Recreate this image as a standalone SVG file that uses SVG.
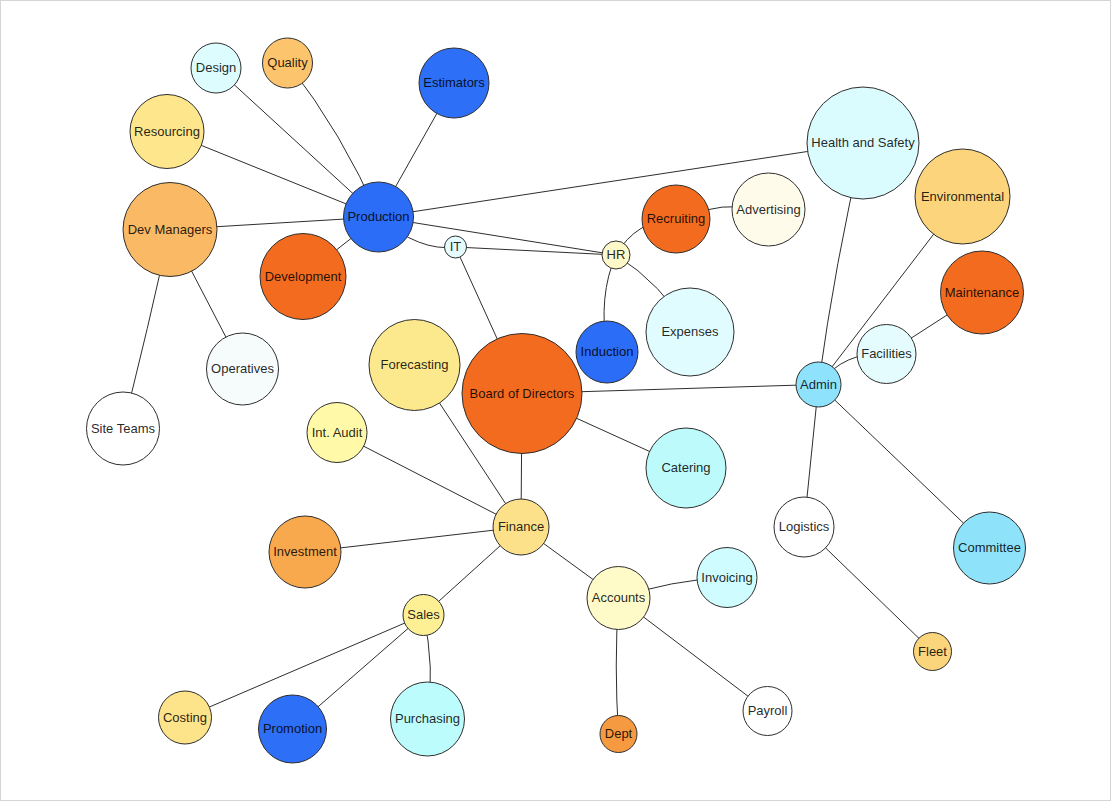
<svg xmlns="http://www.w3.org/2000/svg" width="1111" height="801" viewBox="0 0 1111 801">
<style>
.e{fill:none;stroke:#2e2e2e;stroke-width:1}
.n circle{stroke:#2e2e2e;stroke-width:1}
.n text{font-family:"Liberation Sans",Arial,sans-serif;font-size:13px;fill:#000;fill-opacity:0.86;text-anchor:middle}
</style>
<rect x="0.5" y="0.5" width="1110" height="800" fill="#fff" stroke="#d4d4d4"/>
<g id="connectors">
<path class="e" d="M216,68 L378.5,217"/>
<path class="e" d="M287.5,63 Q343,134 378.5,217"/>
<path class="e" d="M454,83 L378.5,217"/>
<path class="e" d="M167,131.5 L378.5,217"/>
<path class="e" d="M170,229.5 L378.5,217"/>
<path class="e" d="M303,276 L378.5,217"/>
<path class="e" d="M378.5,217 L863,143"/>
<path class="e" d="M378.5,217 L616,255"/>
<path class="e" d="M378.5,217 Q420,252 455.5,247"/>
<path class="e" d="M455.5,247 L616,255"/>
<path class="e" d="M455.5,247 L522,393.5"/>
<path class="e" d="M616,255 Q636,220 676,219"/>
<path class="e" d="M616,255 Q598,295 607,352"/>
<path class="e" d="M616,255 Q662,284 690,332"/>
<path class="e" d="M676,219 Q722,200 768.5,209.5"/>
<path class="e" d="M170,229.5 L242.5,369"/>
<path class="e" d="M170,229.5 Q148,328 123,428.5"/>
<path class="e" d="M522,393.5 L818.5,384.5"/>
<path class="e" d="M522,393.5 L686,468"/>
<path class="e" d="M522,393.5 L521,527"/>
<path class="e" d="M414.5,365 L521,527"/>
<path class="e" d="M337,432.5 L521,527"/>
<path class="e" d="M305,552 L521,527"/>
<path class="e" d="M521,527 L423.5,615"/>
<path class="e" d="M521,527 L618.5,598"/>
<path class="e" d="M423.5,615 L185,717.5"/>
<path class="e" d="M423.5,615 L292.5,729"/>
<path class="e" d="M423.5,615 Q435,667 427.5,719"/>
<path class="e" d="M618.5,598 Q671,580 727,577.5"/>
<path class="e" d="M618.5,598 Q614,666 618.5,734"/>
<path class="e" d="M618.5,598 L767.5,711"/>
<path class="e" d="M818.5,384.5 Q835,263 863,143"/>
<path class="e" d="M818.5,384.5 L962.5,196.5"/>
<path class="e" d="M818.5,384.5 Q844.3,350.8 886.5,354"/>
<path class="e" d="M886.5,354 L982,292.5"/>
<path class="e" d="M818.5,384.5 L804,527"/>
<path class="e" d="M818.5,384.5 L989.5,548"/>
<path class="e" d="M804,527 L932.5,651.5"/>
</g>
<g id="n-design" class="n"><circle cx="216" cy="68" r="25" fill="#dcfcfe"/><text x="216" y="72">Design</text></g>
<g id="n-quality" class="n"><circle cx="287.5" cy="63" r="25" fill="#fcc46c"/><text x="287.5" y="67">Quality</text></g>
<g id="n-estimators" class="n"><circle cx="454" cy="83" r="35" fill="#2d6ff7"/><text x="454" y="87">Estimators</text></g>
<g id="n-resourcing" class="n"><circle cx="167" cy="131.5" r="37" fill="#fde68c"/><text x="167" y="135.5">Resourcing</text></g>
<g id="n-devmanagers" class="n"><circle cx="170" cy="229.5" r="47" fill="#fab965"/><text x="170" y="233.5">Dev Managers</text></g>
<g id="n-production" class="n"><circle cx="378.5" cy="217" r="35" fill="#2b6df6"/><text x="378.5" y="221">Production</text></g>
<g id="n-development" class="n"><circle cx="303" cy="276.5" r="43" fill="#f36b1f"/><text x="303" y="280.5">Development</text></g>
<g id="n-it" class="n"><circle cx="455.5" cy="247" r="11" fill="#e6fbfd"/><text x="455.5" y="251">IT</text></g>
<g id="n-hr" class="n"><circle cx="616" cy="255" r="14" fill="#fff8c8"/><text x="616" y="259">HR</text></g>
<g id="n-recruiting" class="n"><circle cx="676" cy="219" r="34" fill="#f36b1f"/><text x="676" y="223">Recruiting</text></g>
<g id="n-advertising" class="n"><circle cx="768.5" cy="209.5" r="36.5" fill="#fffbeb"/><text x="768.5" y="213.5">Advertising</text></g>
<g id="n-healthsafety" class="n"><circle cx="863" cy="143" r="56" fill="#dafcfe"/><text x="863" y="147">Health and Safety</text></g>
<g id="n-environmental" class="n"><circle cx="962.5" cy="196.5" r="47.5" fill="#fcd47c"/><text x="962.5" y="200.5">Environmental</text></g>
<g id="n-maintenance" class="n"><circle cx="982" cy="292.5" r="41.5" fill="#f36b1f"/><text x="982" y="296.5">Maintenance</text></g>
<g id="n-facilities" class="n"><circle cx="886.5" cy="354" r="29.5" fill="#e4fcfd"/><text x="886.5" y="358">Facilities</text></g>
<g id="n-admin" class="n"><circle cx="818.5" cy="384.5" r="22.5" fill="#8ee2fb"/><text x="818.5" y="388.5">Admin</text></g>
<g id="n-induction" class="n"><circle cx="607" cy="352" r="31" fill="#2b6df6"/><text x="607" y="356">Induction</text></g>
<g id="n-expenses" class="n"><circle cx="690" cy="332" r="44" fill="#e0fcfe"/><text x="690" y="336">Expenses</text></g>
<g id="n-board" class="n"><circle cx="522" cy="393.5" r="60" fill="#f36b1f"/><text x="522" y="397.5">Board of Directors</text></g>
<g id="n-forecasting" class="n"><circle cx="414.5" cy="365" r="45.5" fill="#fde98d"/><text x="414.5" y="369">Forecasting</text></g>
<g id="n-operatives" class="n"><circle cx="242.5" cy="369" r="36" fill="#f6fbfc"/><text x="242.5" y="373">Operatives</text></g>
<g id="n-siteteams" class="n"><circle cx="123" cy="428.5" r="36.5" fill="#ffffff"/><text x="123" y="432.5">Site Teams</text></g>
<g id="n-intaudit" class="n"><circle cx="337" cy="432.5" r="30" fill="#fff9a8"/><text x="337" y="436.5">Int. Audit</text></g>
<g id="n-catering" class="n"><circle cx="686" cy="468" r="40" fill="#bcfafc"/><text x="686" y="472">Catering</text></g>
<g id="n-finance" class="n"><circle cx="521" cy="527" r="28" fill="#fde18a"/><text x="521" y="531">Finance</text></g>
<g id="n-investment" class="n"><circle cx="305" cy="552" r="36" fill="#f8a94d"/><text x="305" y="556">Investment</text></g>
<g id="n-logistics" class="n"><circle cx="804" cy="527" r="30" fill="#ffffff"/><text x="804" y="531">Logistics</text></g>
<g id="n-committee" class="n"><circle cx="989.5" cy="548" r="36" fill="#8ee3fb"/><text x="989.5" y="552">Committee</text></g>
<g id="n-fleet" class="n"><circle cx="932.5" cy="651.5" r="19" fill="#fbd57b"/><text x="932.5" y="655.5">Fleet</text></g>
<g id="n-accounts" class="n"><circle cx="618.5" cy="598" r="31.5" fill="#fffbc8"/><text x="618.5" y="602">Accounts</text></g>
<g id="n-invoicing" class="n"><circle cx="727" cy="577.5" r="30" fill="#cffcfe"/><text x="727" y="581.5">Invoicing</text></g>
<g id="n-dept" class="n"><circle cx="618.5" cy="734" r="18.5" fill="#f59a41"/><text x="618.5" y="738">Dept</text></g>
<g id="n-payroll" class="n"><circle cx="767.5" cy="711" r="24.5" fill="#ffffff"/><text x="767.5" y="715">Payroll</text></g>
<g id="n-sales" class="n"><circle cx="423.5" cy="615" r="20.5" fill="#fdef94"/><text x="423.5" y="619">Sales</text></g>
<g id="n-costing" class="n"><circle cx="185" cy="717.5" r="26.5" fill="#fde38a"/><text x="185" y="721.5">Costing</text></g>
<g id="n-promotion" class="n"><circle cx="292.5" cy="729" r="34" fill="#2d6ff7"/><text x="292.5" y="733">Promotion</text></g>
<g id="n-purchasing" class="n"><circle cx="427.5" cy="719" r="37" fill="#bdfcfc"/><text x="427.5" y="723">Purchasing</text></g>
</svg>
